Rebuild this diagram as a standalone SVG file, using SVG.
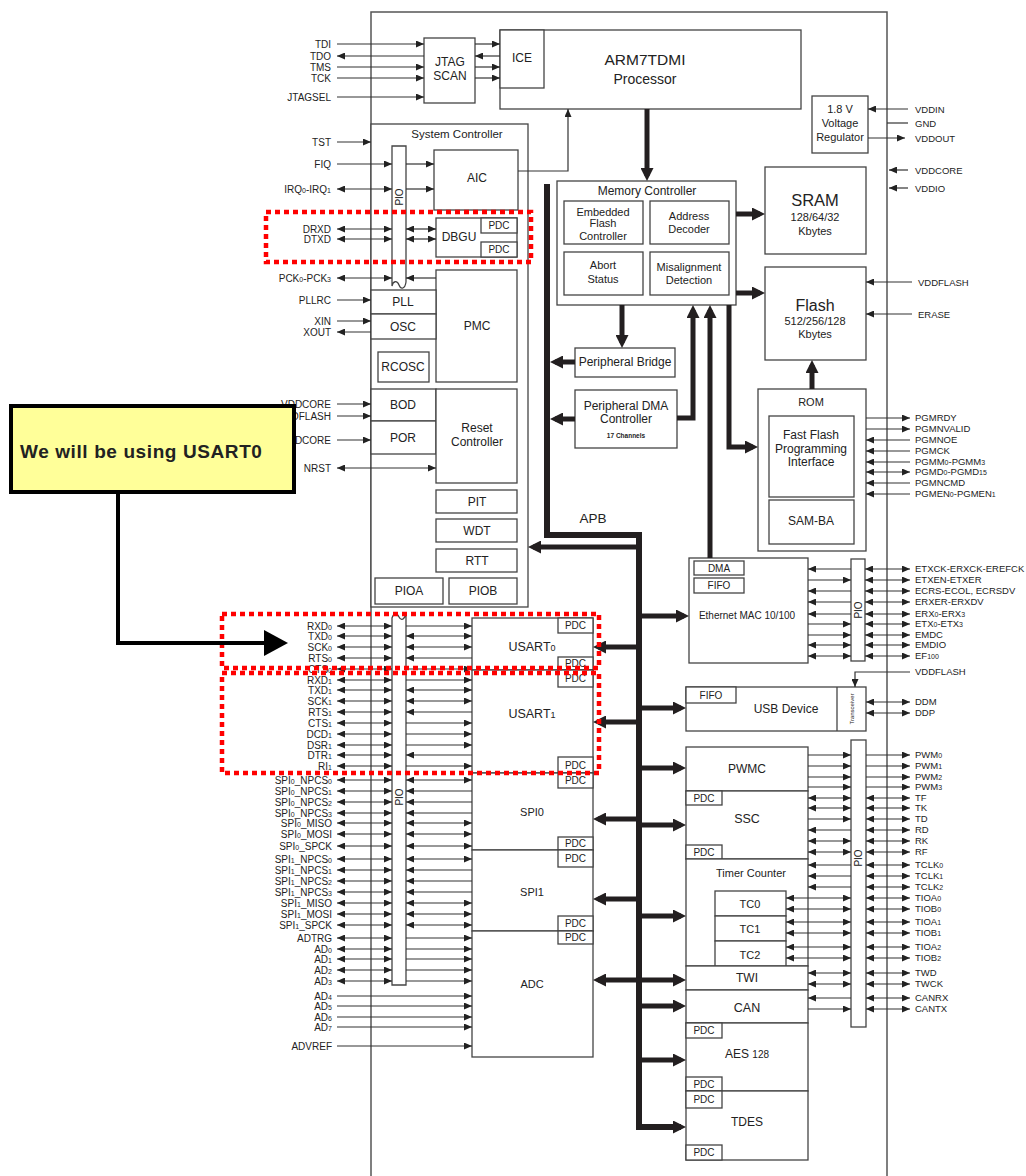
<svg xmlns="http://www.w3.org/2000/svg" width="1026" height="1176" viewBox="0 0 1026 1176">
<style>
text{font-family:"Liberation Sans",Arial,Helvetica,sans-serif;fill:#222}
.c{text-anchor:middle}
.t{font-size:12px}
.s{font-size:11px}
.p{font-size:10px}
.l{font-size:10px;text-anchor:end}
.r{font-size:9.5px}
.i{font-size:7px}
.bx{fill:#fff;stroke:#444;stroke-width:1.3}
.bn{fill:none;stroke:#444;stroke-width:1.3}
.w{stroke:#333;stroke-width:1.2;fill:none}
.e{marker-end:url(#a)}
.b{marker-start:url(#a);marker-end:url(#a)}
.k{stroke:#231f20;stroke-width:5;fill:none;marker-end:url(#t)}
.kb{marker-start:url(#t)}
.bus{stroke:#231f20;stroke-width:6;fill:none;marker-end:url(#t)}
.red{fill:none;stroke:#ff0000;stroke-width:4.5;stroke-dasharray:5 4}
</style>
<defs>
<marker id="a" viewBox="0 0 8 7" refX="8" refY="3.5" markerWidth="8" markerHeight="7" markerUnits="userSpaceOnUse" orient="auto-start-reverse"><path d="M0,0 L8,3.5 L0,7 z" fill="#222"/></marker>
<marker id="t" viewBox="0 0 13 13" refX="8" refY="6.5" markerWidth="13" markerHeight="13" markerUnits="userSpaceOnUse" orient="auto-start-reverse"><path d="M0,0 L13,6.5 L0,13 z" fill="#231f20"/></marker>
</defs>
<rect width="1026" height="1176" fill="#fff"/>
<g id="chip"><path d="M371,1176 V12 H887 V1176" fill="none" stroke="#555" stroke-width="1.5"/></g>

<g id="jtag"><rect class="bx" x="424" y="38" width="51" height="65"/><text class="t c" x="450" y="66">JTAG</text><text class="t c" x="450" y="80">SCAN</text></g>
<g id="arm"><rect class="bx" x="500" y="30" width="301" height="79"/><rect class="bx" x="500" y="30" width="44" height="58"/><text class="t c" x="522" y="62">ICE</text><text class="c" font-size="15.5" x="645" y="65">ARM7TDMI</text><text class="c" font-size="14" x="645" y="84">Processor</text></g>
<g id="regulator"><rect class="bx" x="812" y="96" width="56" height="57"/><text class="s c" x="840" y="113">1.8 V</text><text class="s c" x="840" y="127">Voltage</text><text class="s c" x="840" y="141">Regulator</text></g>

<g id="syscon"><rect class="bx" x="371" y="124" width="157" height="483"/><text class="c" font-size="11.5" x="457" y="138">System Controller</text>
<path class="bx" d="M392,146 H406 V282 C405,289 401,290 399,285 C397,280 393,281 392,286 Z"/><text class="p c" transform="translate(399,197) rotate(-90)" y="3.5">PIO</text></g>
<g id="aic"><rect class="bx" x="434" y="150" width="84" height="60"/><text class="t c" x="477" y="182">AIC</text></g>
<g id="dbgu"><rect class="bx" x="436" y="218" width="81" height="39"/><text class="t c" x="459" y="241">DBGU</text><rect class="bx" x="481" y="218" width="36" height="15"/><text class="p c" x="499" y="229">PDC</text><rect class="bx" x="481" y="242" width="36" height="15"/><text class="p c" x="499" y="253">PDC</text></g>
<g id="pmc"><rect class="bx" x="436" y="270" width="81" height="112"/><text class="t c" x="477" y="330">PMC</text></g>
<g id="pll"><rect class="bx" x="371" y="290" width="65" height="24"/><text class="t c" x="403" y="306">PLL</text></g>
<g id="osc"><rect class="bx" x="371" y="314" width="65" height="25"/><text class="t c" x="403" y="331">OSC</text></g>
<g id="rcosc"><rect class="bx" x="378" y="352" width="51" height="30"/><text class="t c" x="403" y="371">RCOSC</text></g>
<g id="bod"><rect class="bx" x="371" y="389" width="65" height="32"/><text class="t c" x="403" y="409">BOD</text></g>
<g id="por"><rect class="bx" x="371" y="421" width="65" height="33"/><text class="t c" x="403" y="442">POR</text></g>
<g id="reset"><rect class="bx" x="436" y="389" width="81" height="94"/><text class="t c" x="477" y="432">Reset</text><text class="t c" x="477" y="446">Controller</text></g>
<g id="pit"><rect class="bx" x="436" y="490" width="81" height="23"/><text class="t c" x="477" y="506">PIT</text></g>
<g id="wdt"><rect class="bx" x="436" y="519" width="81" height="23"/><text class="t c" x="477" y="535">WDT</text></g>
<g id="rtt"><rect class="bx" x="436" y="549" width="81" height="23"/><text class="t c" x="477" y="565">RTT</text></g>
<g id="pioa"><rect class="bx" x="375" y="578" width="68" height="26"/><text class="t c" x="409" y="595">PIOA</text></g>
<g id="piob"><rect class="bx" x="449" y="578" width="68" height="26"/><text class="t c" x="483" y="595">PIOB</text></g>

<g id="memctrl"><rect class="bx" x="557" y="181" width="179" height="124"/><text class="t c" x="647" y="195">Memory Controller</text>
<rect class="bx" x="564" y="201" width="79" height="43"/><text class="s c" x="603" y="216">Embedded</text><text class="s c" x="603" y="227">Flash</text><text class="s c" x="603" y="240">Controller</text>
<rect class="bx" x="650" y="201" width="79" height="43"/><text class="s c" x="689" y="220">Address</text><text class="s c" x="689" y="233">Decoder</text>
<rect class="bx" x="564" y="252" width="79" height="43"/><text class="s c" x="603" y="269">Abort</text><text class="s c" x="603" y="283">Status</text>
<rect class="bx" x="650" y="252" width="79" height="43"/><text class="s c" x="689" y="271">Misalignment</text><text class="s c" x="689" y="284">Detection</text></g>
<g id="sram"><rect class="bx" x="765" y="167" width="101" height="87"/><text class="c" font-size="16.5" x="815" y="206">SRAM</text><text class="s c" x="815" y="221">128/64/32</text><text class="s c" x="815" y="235">Kbytes</text></g>
<g id="flash"><rect class="bx" x="765" y="267" width="101" height="93"/><text class="c" font-size="16" x="815" y="311">Flash</text><text class="s c" x="815" y="325">512/256/128</text><text class="s c" x="815" y="338">Kbytes</text></g>
<g id="pbridge"><rect class="bx" x="575" y="348" width="100" height="29"/><text class="t c" x="625" y="366">Peripheral Bridge</text></g>
<g id="pdma"><rect class="bx" x="575" y="390" width="102" height="58"/><text class="t c" x="626" y="410">Peripheral DMA</text><text class="t c" x="626" y="423">Controller</text><text class="c" font-size="6.5" font-weight="bold" x="626" y="438">17 Channels</text></g>
<g id="rom"><rect class="bx" x="758" y="389" width="108" height="162"/><text class="s c" x="811" y="406">ROM</text>
<rect class="bx" x="769" y="416" width="85" height="81"/><text class="t c" x="811" y="439">Fast Flash</text><text class="t c" x="811" y="453">Programming</text><text class="t c" x="811" y="466">Interface</text>
<rect class="bx" x="769" y="500" width="85" height="44"/><text class="t c" x="811" y="525">SAM-BA</text></g>
<g id="apb"><text class="c" font-size="13.5" x="593" y="523">APB</text></g>

<g id="ethernet"><rect class="bx" x="689" y="558" width="119" height="105"/><rect class="bx" x="694" y="561" width="50" height="14"/><text class="p c" x="719" y="572">DMA</text><rect class="bx" x="694" y="578" width="50" height="15"/><text class="p c" x="719" y="589">FIFO</text><text class="p c" x="747" y="619">Ethernet MAC 10/100</text></g>
<g id="eth-pio"><rect class="bx" x="851" y="559" width="14" height="102"/><text class="p c" transform="translate(858,610) rotate(-90)" y="3.5">PIO</text></g>
<g id="usb"><rect class="bx" x="686" y="687" width="180" height="44"/><rect class="bx" x="686" y="687" width="50" height="16"/><text class="p c" x="711" y="699">FIFO</text><line class="bn" x1="837" y1="687" x2="837" y2="731"/><text class="t c" x="786" y="713">USB Device</text><text class="c" font-size="6" transform="translate(852,709) rotate(-90)" y="2">Transceiver</text></g>
<g id="pwmc"><rect class="bx" x="686" y="747" width="122" height="44"/><text class="t c" x="747" y="773">PWMC</text></g>
<g id="ssc"><rect class="bx" x="686" y="791" width="122" height="68"/><rect class="bx" x="686" y="791" width="36" height="14"/><text class="p c" x="704" y="802">PDC</text><rect class="bx" x="686" y="845" width="36" height="14"/><text class="p c" x="704" y="856">PDC</text><text class="c" font-size="12.5" x="747" y="823">SSC</text></g>
<g id="tc"><rect class="bx" x="686" y="859" width="122" height="107"/><text class="s c" x="751" y="877">Timer Counter</text>
<rect class="bx" x="715" y="891" width="71" height="25"/><text class="s c" x="750" y="908">TC0</text>
<rect class="bx" x="715" y="916" width="71" height="25"/><text class="s c" x="750" y="933">TC1</text>
<rect class="bx" x="715" y="941" width="71" height="25"/><text class="s c" x="750" y="959">TC2</text></g>
<g id="twi"><rect class="bx" x="686" y="966" width="122" height="24"/><text class="t c" x="747" y="982">TWI</text></g>
<g id="can"><rect class="bx" x="686" y="990" width="122" height="33"/><text class="c" font-size="12.5" x="747" y="1012">CAN</text></g>
<g id="aes"><rect class="bx" x="686" y="1023" width="122" height="68"/><rect class="bx" x="686" y="1023" width="36" height="15"/><text class="p c" x="704" y="1034">PDC</text><rect class="bx" x="686" y="1077" width="36" height="14"/><text class="p c" x="704" y="1088">PDC</text><text class="t c" x="747" y="1058">AES <tspan font-size="10">128</tspan></text></g>
<g id="tdes"><rect class="bx" x="686" y="1091" width="122" height="69"/><rect class="bx" x="686" y="1091" width="36" height="17"/><text class="p c" x="704" y="1103">PDC</text><rect class="bx" x="686" y="1145" width="36" height="15"/><text class="p c" x="704" y="1156">PDC</text><text class="t c" x="747" y="1126">TDES</text></g>
<g id="right-pio"><rect class="bx" x="851" y="740" width="15" height="287"/><text class="p c" transform="translate(858.5,858) rotate(-90)" y="3.5">PIO</text></g>

<g id="usart0"><rect class="bx" x="472" y="618" width="121" height="52"/><rect class="bx" x="558" y="618" width="35" height="15"/><text class="p c" x="575.5" y="629">PDC</text><rect class="bx" x="558" y="657" width="35" height="13"/><text class="p c" x="575.5" y="667">PDC</text><text class="c" font-size="12.5" x="532" y="651">USART<tspan font-size="9">0</tspan></text></g>
<g id="usart1"><rect class="bx" x="472" y="670" width="121" height="103"/><rect class="bx" x="558" y="670" width="35" height="17"/><text class="p c" x="575.5" y="682">PDC</text><rect class="bx" x="558" y="757" width="35" height="16"/><text class="p c" x="575.5" y="769">PDC</text><text class="c" font-size="12.5" x="532" y="718">USART<tspan font-size="9">1</tspan></text></g>
<g id="spi0"><rect class="bx" x="472" y="773" width="121" height="77"/><rect class="bx" x="558" y="773" width="35" height="15"/><text class="p c" x="575.5" y="784">PDC</text><rect class="bx" x="558" y="837" width="35" height="13"/><text class="p c" x="575.5" y="847">PDC</text><text class="s c" x="532" y="816">SPI0</text></g>
<g id="spi1"><rect class="bx" x="472" y="850" width="121" height="81"/><rect class="bx" x="558" y="850" width="35" height="17"/><text class="p c" x="575.5" y="862">PDC</text><rect class="bx" x="558" y="916" width="35" height="15"/><text class="p c" x="575.5" y="927">PDC</text><text class="s c" x="532" y="896">SPI1</text></g>
<g id="adc"><rect class="bx" x="472" y="931" width="121" height="126"/><rect class="bx" x="558" y="931" width="35" height="13"/><text class="p c" x="575.5" y="941">PDC</text><text class="s c" x="532" y="988">ADC</text></g>
<g id="left-pio"><path class="bx" d="M392,985 V618 C394,612 397,613 399,617 C401,621 404,620 406,614 V985 Z"/><text class="p c" transform="translate(399,797) rotate(-90)" y="3.5">PIO</text></g>

<g id="connectors">
<line class="w e" x1="337" y1="44" x2="424" y2="44"/><line class="w e" x1="424" y1="56" x2="337" y2="56"/><line class="w e" x1="337" y1="67" x2="424" y2="67"/><line class="w e" x1="337" y1="78" x2="424" y2="78"/><line class="w e" x1="337" y1="97" x2="424" y2="97"/>
<line class="w e" x1="475" y1="44" x2="500" y2="44"/><line class="w e" x1="500" y1="56" x2="475" y2="56"/><line class="w e" x1="475" y1="67" x2="500" y2="67"/><line class="w e" x1="475" y1="78" x2="500" y2="78"/>
<line class="w e" x1="337" y1="142" x2="371" y2="142"/>
<line class="w e" x1="337" y1="164" x2="392" y2="164"/><line class="w e" x1="406" y1="164" x2="434" y2="164"/>
<line class="w b" x1="337" y1="189" x2="392" y2="189"/><line class="w e" x1="406" y1="189" x2="434" y2="189"/>
<line class="w b" x1="337" y1="229" x2="392" y2="229"/><line class="w b" x1="406" y1="229" x2="436" y2="229"/>
<line class="w b" x1="337" y1="239" x2="392" y2="239"/><line class="w b" x1="406" y1="239" x2="436" y2="239"/>
<line class="w b" x1="337" y1="278" x2="392" y2="278"/><line class="w e" x1="436" y1="278" x2="406" y2="278"/>
<line class="w e" x1="337" y1="300" x2="371" y2="300"/><line class="w e" x1="337" y1="321" x2="371" y2="321"/><line class="w e" x1="371" y1="332" x2="337" y2="332"/>
<line class="w e" x1="337" y1="404" x2="371" y2="404"/><line class="w e" x1="337" y1="416" x2="371" y2="416"/><line class="w e" x1="337" y1="440" x2="371" y2="440"/>
<line class="w b" x1="337" y1="468" x2="436" y2="468"/>
<path class="w e" d="M518,171 H568 V109"/>
<line class="w e" x1="908" y1="109" x2="868" y2="109"/><line class="w" x1="887" y1="123" x2="908" y2="123"/><line class="w e" x1="868" y1="138" x2="905" y2="138"/>
<line class="w e" x1="908" y1="170" x2="889" y2="170"/><line class="w e" x1="908" y1="188" x2="889" y2="188"/>
<line class="w e" x1="912" y1="282" x2="866" y2="282"/><line class="w e" x1="912" y1="314" x2="866" y2="314"/>
<line class="w e" x1="866" y1="418" x2="910" y2="418"/><line class="w e" x1="866" y1="429" x2="910" y2="429"/><line class="w e" x1="910" y1="440" x2="866" y2="440"/><line class="w e" x1="910" y1="451" x2="866" y2="451"/><line class="w e" x1="910" y1="462" x2="866" y2="462"/><line class="w b" x1="866" y1="472" x2="910" y2="472"/><line class="w e" x1="910" y1="483" x2="866" y2="483"/><line class="w e" x1="910" y1="494" x2="866" y2="494"/>
<line class="w e" x1="851" y1="569" x2="808" y2="569"/><line class="w e" x1="808" y1="580" x2="851" y2="580"/><line class="w e" x1="851" y1="591" x2="808" y2="591"/><line class="w e" x1="851" y1="602" x2="808" y2="602"/><line class="w e" x1="851" y1="614" x2="808" y2="614"/><line class="w e" x1="808" y1="624" x2="851" y2="624"/><line class="w e" x1="808" y1="635" x2="851" y2="635"/><line class="w b" x1="808" y1="645" x2="851" y2="645"/><line class="w b" x1="808" y1="656" x2="851" y2="656"/>
<line class="w b" x1="865" y1="569" x2="910" y2="569"/><line class="w b" x1="865" y1="580" x2="910" y2="580"/><line class="w b" x1="865" y1="591" x2="910" y2="591"/><line class="w b" x1="865" y1="602" x2="910" y2="602"/><line class="w b" x1="865" y1="614" x2="910" y2="614"/><line class="w b" x1="865" y1="624" x2="910" y2="624"/><line class="w b" x1="865" y1="635" x2="910" y2="635"/><line class="w b" x1="865" y1="645" x2="910" y2="645"/><line class="w b" x1="865" y1="656" x2="910" y2="656"/>
<path class="w e" d="M910,672 H855 V687"/>
<line class="w b" x1="866" y1="702" x2="910" y2="702"/><line class="w b" x1="866" y1="713" x2="910" y2="713"/>
<line class="w e" x1="808" y1="755" x2="851" y2="755"/><line class="w e" x1="808" y1="766" x2="851" y2="766"/><line class="w e" x1="808" y1="777" x2="851" y2="777"/><line class="w e" x1="808" y1="787" x2="851" y2="787"/>
<line class="w b" x1="808" y1="798" x2="851" y2="798"/><line class="w b" x1="808" y1="808" x2="851" y2="808"/><line class="w e" x1="808" y1="819" x2="851" y2="819"/><line class="w e" x1="851" y1="830" x2="808" y2="830"/><line class="w b" x1="808" y1="841" x2="851" y2="841"/><line class="w b" x1="808" y1="852" x2="851" y2="852"/>
<line class="w e" x1="851" y1="865" x2="808" y2="865"/><line class="w e" x1="851" y1="876" x2="808" y2="876"/><line class="w e" x1="851" y1="887" x2="808" y2="887"/>
<line class="w b" x1="786" y1="898" x2="851" y2="898"/><line class="w b" x1="786" y1="909" x2="851" y2="909"/><line class="w b" x1="786" y1="922" x2="851" y2="922"/><line class="w b" x1="786" y1="933" x2="851" y2="933"/><line class="w b" x1="786" y1="947" x2="851" y2="947"/><line class="w b" x1="786" y1="958" x2="851" y2="958"/>
<line class="w b" x1="808" y1="973" x2="851" y2="973"/><line class="w b" x1="808" y1="984" x2="851" y2="984"/><line class="w e" x1="851" y1="998" x2="808" y2="998"/><line class="w e" x1="808" y1="1009" x2="851" y2="1009"/>
<line class="w e" x1="866" y1="755" x2="910" y2="755"/><line class="w e" x1="866" y1="766" x2="910" y2="766"/><line class="w e" x1="866" y1="777" x2="910" y2="777"/><line class="w e" x1="866" y1="787" x2="910" y2="787"/>
<line class="w b" x1="866" y1="798" x2="910" y2="798"/><line class="w b" x1="866" y1="808" x2="910" y2="808"/><line class="w b" x1="866" y1="819" x2="910" y2="819"/><line class="w b" x1="866" y1="830" x2="910" y2="830"/><line class="w b" x1="866" y1="841" x2="910" y2="841"/><line class="w b" x1="866" y1="852" x2="910" y2="852"/><line class="w b" x1="866" y1="865" x2="910" y2="865"/><line class="w b" x1="866" y1="876" x2="910" y2="876"/><line class="w b" x1="866" y1="887" x2="910" y2="887"/><line class="w b" x1="866" y1="898" x2="910" y2="898"/><line class="w b" x1="866" y1="909" x2="910" y2="909"/><line class="w b" x1="866" y1="922" x2="910" y2="922"/><line class="w b" x1="866" y1="933" x2="910" y2="933"/><line class="w b" x1="866" y1="947" x2="910" y2="947"/><line class="w b" x1="866" y1="958" x2="910" y2="958"/><line class="w b" x1="866" y1="973" x2="910" y2="973"/><line class="w b" x1="866" y1="984" x2="910" y2="984"/><line class="w b" x1="866" y1="998" x2="910" y2="998"/><line class="w b" x1="866" y1="1009" x2="910" y2="1009"/>
<line class="w b" x1="337" y1="626" x2="392" y2="626"/><line class="w b" x1="337" y1="636" x2="392" y2="636"/><line class="w b" x1="337" y1="647" x2="392" y2="647"/><line class="w b" x1="337" y1="658" x2="392" y2="658"/><line class="w b" x1="337" y1="669" x2="392" y2="669"/><line class="w b" x1="337" y1="680" x2="392" y2="680"/><line class="w b" x1="337" y1="690" x2="392" y2="690"/><line class="w b" x1="337" y1="701" x2="392" y2="701"/><line class="w b" x1="337" y1="712" x2="392" y2="712"/><line class="w b" x1="337" y1="723" x2="392" y2="723"/><line class="w b" x1="337" y1="734" x2="392" y2="734"/><line class="w b" x1="337" y1="745" x2="392" y2="745"/><line class="w b" x1="337" y1="755" x2="392" y2="755"/><line class="w b" x1="337" y1="766" x2="392" y2="766"/>
<line class="w b" x1="337" y1="780" x2="392" y2="780"/><line class="w b" x1="337" y1="791" x2="392" y2="791"/><line class="w b" x1="337" y1="802" x2="392" y2="802"/><line class="w b" x1="337" y1="813" x2="392" y2="813"/><line class="w b" x1="337" y1="823" x2="392" y2="823"/><line class="w b" x1="337" y1="834" x2="392" y2="834"/><line class="w b" x1="337" y1="846" x2="392" y2="846"/><line class="w b" x1="337" y1="859" x2="392" y2="859"/><line class="w b" x1="337" y1="870" x2="392" y2="870"/><line class="w b" x1="337" y1="881" x2="392" y2="881"/><line class="w b" x1="337" y1="892" x2="392" y2="892"/><line class="w b" x1="337" y1="903" x2="392" y2="903"/><line class="w b" x1="337" y1="914" x2="392" y2="914"/><line class="w b" x1="337" y1="925" x2="392" y2="925"/>
<line class="w b" x1="337" y1="938" x2="392" y2="938"/><line class="w b" x1="337" y1="949" x2="392" y2="949"/><line class="w b" x1="337" y1="959" x2="392" y2="959"/><line class="w b" x1="337" y1="970" x2="392" y2="970"/><line class="w b" x1="337" y1="981" x2="392" y2="981"/>
<line class="w e" x1="406" y1="626" x2="472" y2="626"/><line class="w b" x1="406" y1="636" x2="472" y2="636"/><line class="w b" x1="406" y1="647" x2="472" y2="647"/><line class="w e" x1="472" y1="658" x2="406" y2="658"/><line class="w e" x1="406" y1="669" x2="472" y2="669"/>
<line class="w e" x1="406" y1="680" x2="472" y2="680"/><line class="w b" x1="406" y1="690" x2="472" y2="690"/><line class="w b" x1="406" y1="701" x2="472" y2="701"/><line class="w e" x1="472" y1="712" x2="406" y2="712"/><line class="w e" x1="406" y1="723" x2="472" y2="723"/><line class="w e" x1="406" y1="734" x2="472" y2="734"/><line class="w e" x1="406" y1="745" x2="472" y2="745"/><line class="w e" x1="472" y1="755" x2="406" y2="755"/><line class="w e" x1="406" y1="766" x2="472" y2="766"/>
<line class="w b" x1="406" y1="780" x2="472" y2="780"/><line class="w e" x1="472" y1="791" x2="406" y2="791"/><line class="w e" x1="472" y1="802" x2="406" y2="802"/><line class="w e" x1="472" y1="813" x2="406" y2="813"/><line class="w b" x1="406" y1="823" x2="472" y2="823"/><line class="w b" x1="406" y1="834" x2="472" y2="834"/><line class="w b" x1="406" y1="846" x2="472" y2="846"/>
<line class="w b" x1="406" y1="859" x2="472" y2="859"/><line class="w e" x1="472" y1="870" x2="406" y2="870"/><line class="w e" x1="472" y1="881" x2="406" y2="881"/><line class="w e" x1="472" y1="892" x2="406" y2="892"/><line class="w b" x1="406" y1="903" x2="472" y2="903"/><line class="w b" x1="406" y1="914" x2="472" y2="914"/><line class="w b" x1="406" y1="925" x2="472" y2="925"/>
<line class="w e" x1="406" y1="938" x2="472" y2="938"/><line class="w e" x1="406" y1="949" x2="472" y2="949"/><line class="w e" x1="406" y1="959" x2="472" y2="959"/><line class="w e" x1="406" y1="970" x2="472" y2="970"/><line class="w e" x1="406" y1="981" x2="472" y2="981"/>
<line class="w e" x1="337" y1="996" x2="472" y2="996"/><line class="w e" x1="337" y1="1006" x2="472" y2="1006"/><line class="w e" x1="337" y1="1017" x2="472" y2="1017"/><line class="w e" x1="337" y1="1027" x2="472" y2="1027"/><line class="w e" x1="337" y1="1046" x2="472" y2="1046"/>
<line class="k" x1="647" y1="109" x2="647" y2="176"/>
<line class="k" x1="736" y1="214" x2="760" y2="214"/>
<line class="k" x1="736" y1="293" x2="760" y2="293"/>
<line class="k" x1="622" y1="305" x2="622" y2="343"/>
<line class="k" x1="575" y1="362" x2="555" y2="362"/>
<line class="k" x1="575" y1="419" x2="555" y2="419"/>
<path class="k" d="M677,418 H693 V310"/>
<path class="k" d="M710,558 V310"/>
<path class="k" d="M729,305 V447 H753"/>
<path class="k" d="M812,389 V365"/>
<path class="bus" d="M547,184 V535 H639 V1127 H681"/>
<line class="k" x1="639" y1="547" x2="533" y2="547"/>
<line class="k" x1="639" y1="647" x2="598" y2="647"/>
<line class="k" x1="639" y1="722" x2="598" y2="722"/>
<line class="k" x1="639" y1="819" x2="598" y2="819"/>
<line class="k" x1="639" y1="899" x2="598" y2="899"/>
<line class="k kb" x1="598" y1="980" x2="681" y2="980"/>
<line class="k" x1="639" y1="616" x2="684" y2="616"/>
<line class="k" x1="639" y1="708" x2="681" y2="708"/>
<line class="k" x1="639" y1="768" x2="681" y2="768"/>
<line class="k" x1="639" y1="825" x2="681" y2="825"/>
<line class="k" x1="639" y1="916" x2="681" y2="916"/>
<line class="k" x1="639" y1="1006" x2="681" y2="1006"/>
<line class="k" x1="639" y1="1060" x2="681" y2="1060"/>
</g>

<g id="pins">
<text class="l" x="331" y="47.5">TDI</text><text class="l" x="331" y="59.5">TDO</text><text class="l" x="331" y="70.5">TMS</text><text class="l" x="331" y="81.5">TCK</text><text class="l" x="331" y="100.5">JTAGSEL</text>
<text class="l" x="331" y="145.5">TST</text><text class="l" x="331" y="167.5">FIQ</text><text class="l" x="331" y="192.5">IRQ<tspan class="i">0</tspan>-IRQ<tspan class="i">1</tspan></text>
<text class="l" x="331" y="232.5">DRXD</text><text class="l" x="331" y="242.5">DTXD</text><text class="l" x="331" y="281.5">PCK<tspan class="i">0</tspan>-PCK<tspan class="i">3</tspan></text>
<text class="l" x="331" y="303.5">PLLRC</text><text class="l" x="331" y="324.5">XIN</text><text class="l" x="331" y="335.5">XOUT</text>
<text class="l" x="331" y="407.5">VDDCORE</text><text class="l" x="331" y="419.5">VDDFLASH</text><text class="l" x="331" y="443.5">VDDCORE</text><text class="l" x="331" y="471.5">NRST</text>
<text class="r" x="915" y="112.5">VDDIN</text><text class="r" x="915" y="126.5">GND</text><text class="r" x="915" y="141.5">VDDOUT</text><text class="r" x="915" y="173.5">VDDCORE</text><text class="r" x="915" y="191.5">VDDIO</text>
<text class="r" x="918" y="285.5">VDDFLASH</text><text class="r" x="918" y="317.5">ERASE</text>
<text class="r" x="915" y="421.3">PGMRDY</text><text class="r" x="915" y="432.3">PGMNVALID</text><text class="r" x="915" y="443.3">PGMNOE</text><text class="r" x="915" y="454.3">PGMCK</text><text class="r" x="915" y="465.3">PGMM<tspan class="i">0</tspan>-PGMM<tspan class="i">3</tspan></text><text class="r" x="915" y="475.3">PGMD<tspan class="i">0</tspan>-PGMD<tspan class="i">15</tspan></text><text class="r" x="915" y="486.3">PGMNCMD</text><text class="r" x="915" y="497.3">PGMEN<tspan class="i">0</tspan>-PGMEN<tspan class="i">1</tspan></text>
<text class="r" x="915" y="572.3">ETXCK-ERXCK-EREFCK</text><text class="r" x="915" y="583.3">ETXEN-ETXER</text><text class="r" x="915" y="594.3">ECRS-ECOL, ECRSDV</text><text class="r" x="915" y="605.3">ERXER-ERXDV</text><text class="r" x="915" y="617.3">ERX<tspan class="i">0</tspan>-ERX<tspan class="i">3</tspan></text><text class="r" x="915" y="627.3">ETX<tspan class="i">0</tspan>-ETX<tspan class="i">3</tspan></text><text class="r" x="915" y="638.3">EMDC</text><text class="r" x="915" y="648.3">EMDIO</text><text class="r" x="915" y="659.3">EF<tspan class="i">100</tspan></text>
<text class="r" x="915" y="675.3">VDDFLASH</text><text class="r" x="915" y="705.3">DDM</text><text class="r" x="915" y="716.3">DDP</text>
<text class="r" x="915" y="758.3">PWM<tspan class="i">0</tspan></text><text class="r" x="915" y="769.3">PWM<tspan class="i">1</tspan></text><text class="r" x="915" y="780.3">PWM<tspan class="i">2</tspan></text><text class="r" x="915" y="790.3">PWM<tspan class="i">3</tspan></text>
<text class="r" x="915" y="801.3">TF</text><text class="r" x="915" y="811.3">TK</text><text class="r" x="915" y="822.3">TD</text><text class="r" x="915" y="833.3">RD</text><text class="r" x="915" y="844.3">RK</text><text class="r" x="915" y="855.3">RF</text>
<text class="r" x="915" y="868.3">TCLK<tspan class="i">0</tspan></text><text class="r" x="915" y="879.3">TCLK<tspan class="i">1</tspan></text><text class="r" x="915" y="890.3">TCLK<tspan class="i">2</tspan></text>
<text class="r" x="915" y="901.3">TIOA<tspan class="i">0</tspan></text><text class="r" x="915" y="912.3">TIOB<tspan class="i">0</tspan></text><text class="r" x="915" y="925.3">TIOA<tspan class="i">1</tspan></text><text class="r" x="915" y="936.3">TIOB<tspan class="i">1</tspan></text><text class="r" x="915" y="950.3">TIOA<tspan class="i">2</tspan></text><text class="r" x="915" y="961.3">TIOB<tspan class="i">2</tspan></text>
<text class="r" x="915" y="976.3">TWD</text><text class="r" x="915" y="987.3">TWCK</text><text class="r" x="915" y="1001.3">CANRX</text><text class="r" x="915" y="1012.3">CANTX</text>
<text class="l" x="332" y="629.5">RXD<tspan class="i">0</tspan></text><text class="l" x="332" y="639.5">TXD<tspan class="i">0</tspan></text><text class="l" x="332" y="650.5">SCK<tspan class="i">0</tspan></text><text class="l" x="332" y="661.5">RTS<tspan class="i">0</tspan></text><text class="l" x="332" y="672.5">CTS<tspan class="i">0</tspan></text>
<text class="l" x="332" y="683.5">RXD<tspan class="i">1</tspan></text><text class="l" x="332" y="693.5">TXD<tspan class="i">1</tspan></text><text class="l" x="332" y="704.5">SCK<tspan class="i">1</tspan></text><text class="l" x="332" y="715.5">RTS<tspan class="i">1</tspan></text><text class="l" x="332" y="726.5">CTS<tspan class="i">1</tspan></text><text class="l" x="332" y="737.5">DCD<tspan class="i">1</tspan></text><text class="l" x="332" y="748.5">DSR<tspan class="i">1</tspan></text><text class="l" x="332" y="758.5">DTR<tspan class="i">1</tspan></text><text class="l" x="332" y="769.5">RI<tspan class="i">1</tspan></text>
<text class="l" x="332" y="783.5">SPI<tspan class="i">0</tspan>_NPCS<tspan class="i">0</tspan></text><text class="l" x="332" y="794.5">SPI<tspan class="i">0</tspan>_NPCS<tspan class="i">1</tspan></text><text class="l" x="332" y="805.5">SPI<tspan class="i">0</tspan>_NPCS<tspan class="i">2</tspan></text><text class="l" x="332" y="816.5">SPI<tspan class="i">0</tspan>_NPCS<tspan class="i">3</tspan></text><text class="l" x="332" y="826.5">SPI<tspan class="i">0</tspan>_MISO</text><text class="l" x="332" y="837.5">SPI<tspan class="i">0</tspan>_MOSI</text><text class="l" x="332" y="849.5">SPI<tspan class="i">0</tspan>_SPCK</text>
<text class="l" x="332" y="862.5">SPI<tspan class="i">1</tspan>_NPCS<tspan class="i">0</tspan></text><text class="l" x="332" y="873.5">SPI<tspan class="i">1</tspan>_NPCS<tspan class="i">1</tspan></text><text class="l" x="332" y="884.5">SPI<tspan class="i">1</tspan>_NPCS<tspan class="i">2</tspan></text><text class="l" x="332" y="895.5">SPI<tspan class="i">1</tspan>_NPCS<tspan class="i">3</tspan></text><text class="l" x="332" y="906.5">SPI<tspan class="i">1</tspan>_MISO</text><text class="l" x="332" y="917.5">SPI<tspan class="i">1</tspan>_MOSI</text><text class="l" x="332" y="928.5">SPI<tspan class="i">1</tspan>_SPCK</text>
<text class="l" x="332" y="941.5">ADTRG</text><text class="l" x="332" y="952.5">AD<tspan class="i">0</tspan></text><text class="l" x="332" y="962.5">AD<tspan class="i">1</tspan></text><text class="l" x="332" y="973.5">AD<tspan class="i">2</tspan></text><text class="l" x="332" y="984.5">AD<tspan class="i">3</tspan></text>
<text class="l" x="332" y="999.5">AD<tspan class="i">4</tspan></text><text class="l" x="332" y="1009.5">AD<tspan class="i">5</tspan></text><text class="l" x="332" y="1020.5">AD<tspan class="i">6</tspan></text><text class="l" x="332" y="1030.5">AD<tspan class="i">7</tspan></text><text class="l" x="332" y="1049.5">ADVREF</text>
</g>

<g id="highlights">
<rect class="red" x="266" y="212" width="265" height="50"/>
<rect class="red" x="222" y="614" width="377" height="54"/>
<rect class="red" x="222" y="673" width="377" height="100"/>
</g>

<g id="callout">
<rect x="11" y="406" width="283" height="86" fill="#ffff99" stroke="#000" stroke-width="4"/>
<text x="20" y="458" font-size="19" font-weight="bold" letter-spacing="0.6" fill="#000">We will be using USART0</text>
<path d="M118,492 V643 H266" fill="none" stroke="#000" stroke-width="4"/>
<path d="M264,630 L288,643 L264,656 Z" fill="#000"/>
</g>
</svg>
